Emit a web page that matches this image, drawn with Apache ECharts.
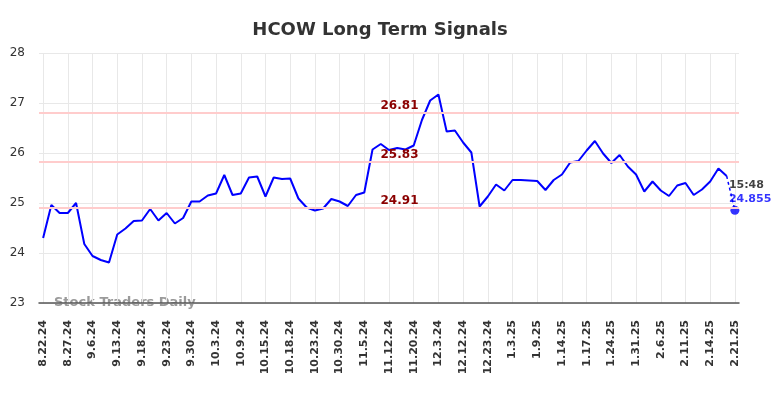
<!DOCTYPE html>
<html>
<head>
<meta charset="utf-8">
<script src="https://cdn.jsdelivr.net/npm/echarts@6/dist/echarts.min.js"></script>
<style>
html,body{margin:0;padding:0;background:#fff;}
#chart{width:784px;height:398px;}
</style>
</head>
<body>
<div id="chart"></div>
<script>
const tickLabels = ['8.22.24','8.27.24','9.6.24','9.13.24','9.18.24','9.23.24','9.30.24','10.3.24','10.9.24','10.15.24','10.18.24','10.23.24','10.30.24','11.5.24','11.12.24','11.20.24','12.3.24','12.12.24','12.23.24','1.3.25','1.9.25','1.14.25','1.17.25','1.24.25','1.31.25','2.6.25','2.11.25','2.14.25','2.21.25'];
const prices = [24.30,24.96,24.80,24.80,25.00,24.18,23.94,23.86,23.81,24.37,
24.49,24.64,24.65,24.88,24.65,24.80,24.59,24.70,25.03,25.03,
25.15,25.19,25.56,25.16,25.19,25.51,25.53,25.13,25.51,25.48,
25.49,25.09,24.91,24.85,24.89,25.08,25.03,24.94,25.16,25.21,
26.07,26.18,26.06,26.10,26.07,26.15,26.66,27.05,27.17,26.43,
26.45,26.21,26.01,24.93,25.13,25.37,25.25,25.46,25.46,25.45,
25.44,25.26,25.46,25.57,25.81,25.84,26.05,26.24,25.99,25.80,
25.96,25.73,25.57,25.23,25.43,25.25,25.14,25.35,25.40,25.16,
25.27,25.43,25.69,25.54];
const lastValue = 24.855;
const lastTime = '15:48';
const levels = [26.81, 25.83, 24.91];
const yTicks = [23, 24, 25, 26, 27, 28];

const nPoints = prices.length + 1;
const categories = [];
for (let i = 0; i < nPoints; i++) {
  categories.push(i % 3 === 0 ? tickLabels[i / 3] : tickLabels[Math.floor(i / 3)] + '_' + (i % 3));
}
const lastIdx = nPoints - 1;
const dashData = categories.map((c, i) => i === lastIdx - 1 ? prices[i] : (i === lastIdx ? lastValue : null));

const chart = echarts.init(document.getElementById('chart'), null, {renderer: 'canvas'});
const font = 'DejaVu Sans';
chart.setOption({
  animation: false,
  backgroundColor: '#ffffff',
  title: {
    text: 'HCOW Long Term Signals',
    left: 375, top: 16, textAlign: 'center',
    textStyle: {fontFamily: font, fontSize: 18, fontWeight: 'bold', color: '#333333'}
  },
  graphic: [{
    type: 'text', left: 54, top: 296, silent: true,
    style: {text: 'Stock Traders Daily', fontFamily: font, fontSize: 13, fontWeight: 'bold', fill: 'rgba(120,120,120,0.75)'}
  }],
  grid: {left: 39, right: 45, top: 53, bottom: 95},
  xAxis: {
    type: 'category',
    data: categories,
    boundaryGap: true,
    axisLine: {show: true, lineStyle: {color: '#555555', width: 1.5}},
    axisTick: {show: false},
    axisLabel: {
      interval: 2, rotate: 90, margin: 17,
      fontFamily: font, fontSize: 11, fontWeight: 'bold', color: '#333333'
    },
    splitLine: {show: true, interval: 2, alignWithLabel: true, lineStyle: {color: '#e8e8e8', width: 1}}
  },
  yAxis: {
    type: 'value', min: yTicks[0], max: yTicks[yTicks.length - 1], interval: 1,
    axisLine: {show: false}, axisTick: {show: false},
    axisLabel: {margin: 14, fontFamily: font, fontSize: 12, color: '#333333'},
    splitLine: {show: true, lineStyle: {color: '#e8e8e8', width: 1}}
  },
  series: [
    {
      type: 'line', data: prices, showSymbol: false, symbol: 'none',
      lineStyle: {color: '#0000ff', width: 2}, z: 3,
      markLine: {
        silent: true, symbol: 'none',
        lineStyle: {color: '#ffcccc', width: 2, type: 'solid'},
        label: {
          show: true, position: 'insideMiddleTop', distance: 1,
          padding: [0, 0, 0, 21],
          fontFamily: font, fontSize: 12, fontWeight: 'bold', color: '#8b0000',
          formatter: p => p.value.toFixed(2)
        },
        data: levels.map(v => ({yAxis: v}))
      }
    },
    {
      type: 'line', data: dashData, showSymbol: false, symbol: 'none', connectNulls: false,
      lineStyle: {color: '#0000ff', width: 1.5, type: [3, 3]}, z: 3
    },
    {
      type: 'scatter', data: [[lastIdx, lastValue]], symbolSize: 9, z: 4,
      itemStyle: {color: '#0000ff'},
      label: {
        show: true, position: 'top', distance: 0, align: 'left', offset: [-6, 0],
        formatter: () => '{t|' + lastTime + '}\n{v|' + lastValue + '}',
        rich: {
          t: {fontFamily: font, fontSize: 11, fontWeight: 'bold', color: '#111111', lineHeight: 14},
          v: {fontFamily: font, fontSize: 11, fontWeight: 'bold', color: '#0000ff', lineHeight: 14}
        }
      }
    }
  ]
});
</script>
</body>
</html>
